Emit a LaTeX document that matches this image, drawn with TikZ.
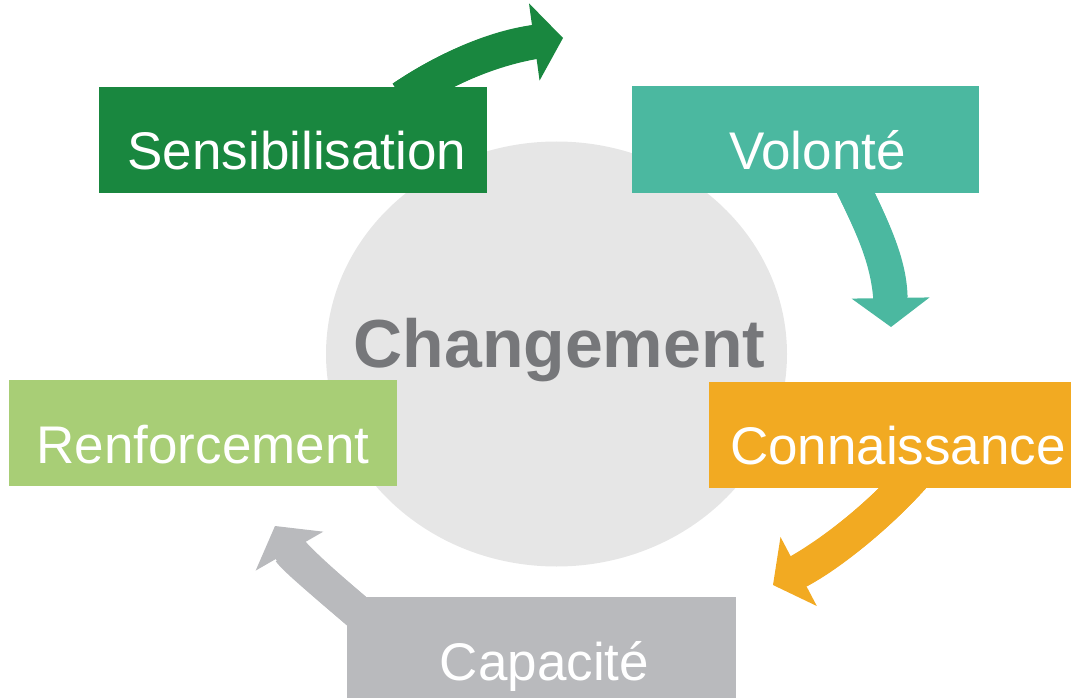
\documentclass[tikz,border=0pt]{standalone}
\usepackage{fontspec}
\setmainfont{Liberation Sans}
\usetikzlibrary{arrows.meta,backgrounds}
\definecolor{sensgreen}{HTML}{19873F}
\definecolor{volteal}{HTML}{4BB8A0}
\definecolor{connorange}{HTML}{F2AA22}
\definecolor{capgray}{HTML}{B9BABD}
\definecolor{renfgreen}{HTML}{A8CE76}
\definecolor{circgray}{HTML}{E6E6E6}
\definecolor{chgtext}{HTML}{76777A}
\begin{document}
\begin{tikzpicture}[x=1pt, y=-1pt,
    box/.style={inner sep=0pt, minimum height=106pt, text=white, text height=60pt, text depth=0pt, font=\fontsize{53}{60}\selectfont},
    bigarrow/.style={line width=34pt, -{Triangle[width=78pt,length=29pt,line width=0pt]},
      postaction={draw, -, shorten >=18pt}}]
  \useasboundingbox (0,0) rectangle (1074,698);
  \node [font=\bfseries\fontsize{68}{70}\selectfont, text=chgtext, anchor=base] (chg) at (559.5,367) {Changement};
  % the five steps
  \node [box, fill=sensgreen, minimum width=388pt] (sens) at (293,140) {\hspace*{8pt}Sensibilisation};
  \node [box, fill=volteal, minimum width=347pt] (vol) at (805.5,139.5) {\hspace*{24pt}Volonté};
  \node [box, fill=connorange, minimum width=362pt] (conn) at (890,434.5) {\hspace*{16pt}Connaissance};
  \node [box, fill=capgray, minimum width=389pt] (cap) at (541.5,650) {\hspace*{6pt}Capacité};
  \node [box, fill=renfgreen, minimum width=388pt] (renf) at (203,433) {Renforcement};
  % tips of the arrows
  \coordinate (t1) at (563,38);
  \coordinate (t2) at (891,327);
  \coordinate (t3) at (773,585);
  \coordinate (t4) at (275,526);
  \begin{scope}[on background layer]
    \fill [circgray] (556.5,354) ellipse [x radius=230.5pt, y radius=212.5pt];
    \draw [bigarrow, sensgreen] ([xshift=-85pt,yshift=-11pt]sens.north east) .. controls (440,72) and (490,48) .. (t1);
    \draw [bigarrow, volteal] ([xshift=39.5pt,yshift=22pt]vol.south) .. controls (870,222) and (890,260) .. (t2);
    \draw [bigarrow, connorange] ([xshift=27pt,yshift=15pt]conn.south) .. controls (880,515) and (830,555) .. (t3);
    \draw [bigarrow, capgray] ([xshift=28pt,yshift=-30pt]cap.north west) .. controls (345,601) and (294,559) .. (t4);
  \end{scope}
\end{tikzpicture}
\end{document}
